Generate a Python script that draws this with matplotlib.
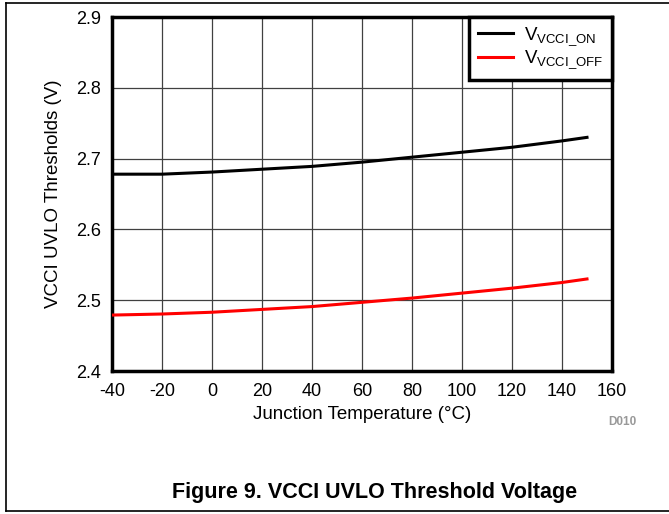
import matplotlib
matplotlib.use("Agg")
import matplotlib.pyplot as plt
from matplotlib.lines import Line2D

plt.rcParams['font.family'] = ['Liberation Sans', 'DejaVu Sans']
plt.rcParams['mathtext.fontset'] = 'custom'
plt.rcParams['mathtext.rm'] = 'Liberation Sans'
plt.rcParams['mathtext.it'] = 'Liberation Sans'

temps = [-40, -20, 0, 20, 40, 60, 80, 100, 120, 140, 150]
v_on = [2.678, 2.678, 2.681, 2.685, 2.689, 2.695, 2.702, 2.709, 2.716, 2.725, 2.730]
v_off = [2.479, 2.4805, 2.483, 2.487, 2.491, 2.497, 2.503, 2.510, 2.517, 2.525, 2.530]
xticks = [-40, -20, 0, 20, 40, 60, 80, 100, 120, 140, 160]
yticks = [2.4, 2.5, 2.6, 2.7, 2.8, 2.9]

W, H = 669, 514
fig = plt.figure(figsize=(W / 100, H / 100), dpi=100)
ax = fig.add_axes([112 / W, 1 - 371 / H, 500 / W, 354 / H])

ax.plot(temps, v_on, color='black', lw=2.2, label=r'V$_{\mathrm{VCCI\_ON}}$', zorder=3)
ax.plot(temps, v_off, color='#ff0000', lw=2.2, label=r'V$_{\mathrm{VCCI\_OFF}}$', zorder=3)

ax.set_xlim(-40, 160)
ax.set_ylim(2.4, 2.9)
ax.set_xticks(xticks)
ax.set_yticks(yticks)
ax.set_xticklabels([str(t) for t in xticks])
ax.set_yticklabels([f"{t:.1f}" for t in yticks])
ax.tick_params(length=0, labelsize=13)
ax.tick_params(axis='x', pad=9)
ax.tick_params(axis='y', pad=8)
ax.grid(True, color='#404040', lw=0.9)
for s in ax.spines.values():
    s.set_linewidth(2.5)
    s.set_color('black')

ax.set_xlabel('Junction Temperature (°C)', fontsize=13.5, labelpad=4)
ax.set_ylabel('VCCI UVLO Thresholds (V)', fontsize=13.5, labelpad=10)

leg = ax.legend(loc='upper right', borderaxespad=0, fontsize=13.5, fancybox=False,
                framealpha=1, edgecolor='black', handlelength=1.9,
                labelspacing=0.05, borderpad=0.45, handletextpad=0.6)
leg.get_frame().set_linewidth(2.5)

fig.text(622 / W, 1 - 422 / H, 'D010', color='#999999', fontsize=8.5,
         fontweight='bold', ha='center', va='center')
fig.text(374.5 / W, 1 - 498 / H, 'Figure 9. VCCI UVLO Threshold Voltage',
         fontsize=15.5, fontweight='bold', ha='center', va='baseline')

fig.add_artist(Line2D([6 / W, 1], [1 - 3 / H, 1 - 3 / H], color='black', lw=1.2,
                      transform=fig.transFigure))
fig.add_artist(Line2D([6 / W, 1], [1 - 511 / H, 1 - 511 / H], color='black', lw=1.2,
                      transform=fig.transFigure))
fig.add_artist(Line2D([6 / W, 6 / W], [1 - 3 / H, 1 - 511 / H], color='black', lw=1.2,
                      transform=fig.transFigure))

fig.savefig('out.png', dpi=100)
